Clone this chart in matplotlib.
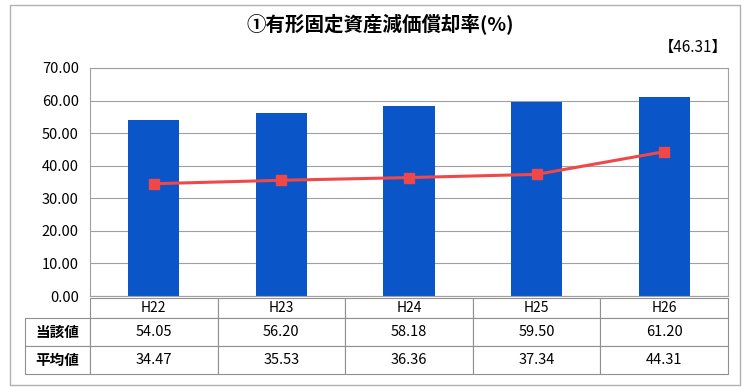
import matplotlib
matplotlib.use("Agg")
import matplotlib.pyplot as plt
from matplotlib.patches import Rectangle

plt.rcParams['font.family'] = ['Noto Sans CJK JP', 'DejaVu Sans']

categories = ["H22", "H23", "H24", "H25", "H26"]
current = [54.05, 56.20, 58.18, 59.50, 61.20]
average = [34.47, 35.53, 36.36, 37.34, 44.31]
row_labels = ["当該値", "平均値"]
yticks = [0, 10, 20, 30, 40, 50, 60, 70]
title = "①有形固定資産減価償却率(%)"
note = "【46.31】"

W, H = 745, 387
fig = plt.figure(figsize=(W/100, H/100), dpi=100)
fig.patch.set_facecolor("white")

# outer frame
fig.add_artist(Rectangle((10/W, 2/H), 730/W, 380/H, transform=fig.transFigure,
                         fill=False, edgecolor="#b0b0b0", linewidth=1.0))

L, R, T, B = 90, 728, 68, 296
ax = fig.add_axes([L/W, 1-B/H, (R-L)/W, (B-T)/H])
x = list(range(len(categories)))
ax.bar(x, current, width=0.4, color="#0a55c8", zorder=2)
ax.plot(x, average, color="#f04848", linewidth=2.2, marker="s", markersize=7, zorder=3)
ax.set_xlim(-0.5, len(categories)-0.5)
ax.set_ylim(0, 70)
ax.set_yticks(yticks)
ax.set_yticklabels([f"{v:.2f}" for v in yticks], fontsize=10.5)
ax.tick_params(axis="y", length=0, pad=8)
ax.set_xticks([])
ax.grid(axis="y", color="#a0a0a0", linewidth=0.8, zorder=0)
for s in ax.spines.values():
    s.set_color("#a0a0a0")
    s.set_linewidth(0.8)

# data table
cell_text = [[""] + categories,
             [row_labels[0]] + [f"{v:.2f}" for v in current],
             [row_labels[1]] + [f"{v:.2f}" for v in average]]
lab_w = 65
aw = R - L
tbl = ax.table(cellText=cell_text, cellLoc="center",
               colWidths=[lab_w/aw] + [1/len(categories)]*len(categories),
               bbox=[-lab_w/aw, -78/(B-T), 1+lab_w/aw, 76/(B-T)])
tbl.auto_set_font_size(False)
row_h = [20, 28, 28]
for (r, c), cell in tbl.get_celld().items():
    cell.set_edgecolor("#909090")
    cell.set_linewidth(0.8)
    cell.set_height(row_h[r] / 100)
    cell.get_text().set_fontsize(10.5)
    if r == 0:
        cell.get_text().set_fontsize(10)
        if c == 0:
            cell.visible_edges = ""
    if c == 0 and r > 0:
        cell.get_text().set_fontweight("bold")

fig.text(380/W, 1-25/H, title, ha="center", va="center", fontsize=14, fontweight="bold")
fig.text(728/W, 1-47/H, note, ha="right", va="center", fontsize=11)

fig.savefig("out.png", dpi=100)
